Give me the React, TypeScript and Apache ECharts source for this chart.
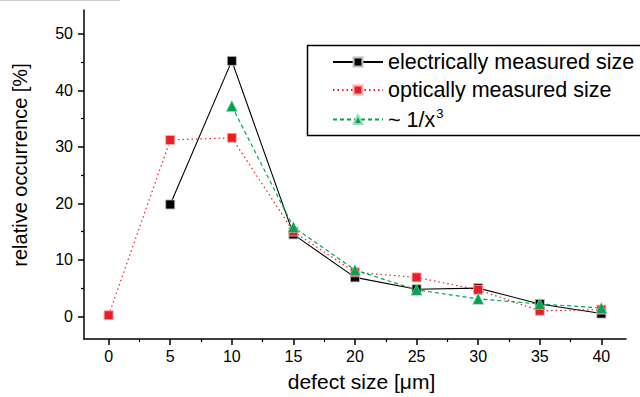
import React, { useEffect, useRef } from "react";
import * as echarts from "echarts";

const sizes = [0, 5, 10, 15, 20, 25, 30, 35, 40];
const electrical = [null, 19.8, 45.2, 14.5, 6.9, 4.8, 5.0, 2.2, 0.5];
const optical = [0.2, 31.2, 31.6, 15.0, 7.8, 6.9, 4.7, 1.0, 1.2];
const cubic = [null, null, 37.2, 15.8, 8.2, 4.7, 3.1, 2.2, 1.5];

const xMajor = [0, 5, 10, 15, 20, 25, 30, 35, 40];
const xMinor = [2.5, 7.5, 12.5, 17.5, 22.5, 27.5, 32.5, 37.5];
const yMajor = [0, 10, 20, 30, 40, 50];
const yMinor = [5, 15, 25, 35, 45];

const names = ["electrically measured size", "optically measured size", "~ 1/x3"];

const FONT = "Liberation Sans, Arial, sans-serif";

function pairs(vals: (number | null)[]) {
  return sizes.map((x, i) => [x, vals[i]]).filter((p) => p[1] !== null);
}

export default function App() {
  const ref = useRef<HTMLDivElement>(null);
  useEffect(() => {
    if (!ref.current) return;
    const chart = echarts.init(ref.current, undefined, { renderer: "svg" });
    const axisLine = { show: true, onZero: false, lineStyle: { color: "#000", width: 1.5 } };
    const xBase = {
      type: "value" as const,
      min: -2,
      max: 42,
      splitLine: { show: false },
    };
    const yBase = {
      type: "value" as const,
      min: -4,
      max: 54.2,
      splitLine: { show: false },
    };
    chart.setOption({
      animation: false,
      backgroundColor: "#fff",
      grid: { left: 84, right: 14, top: 10, bottom: 58, containLabel: false, outerBoundsMode: "none" },
      xAxis: [
        {
          ...xBase,
          axisLine,
          axisTick: { show: true, customValues: xMajor, length: 6, inside: false, lineStyle: { color: "#000", width: 1.5 } },
          axisLabel: { show: true, customValues: xMajor, margin: 9, fontSize: 16, color: "#000", fontFamily: FONT },
          name: "defect size [μm]",
          nameLocation: "middle",
          nameGap: 32,
          nameTextStyle: { fontSize: 21, color: "#000", fontFamily: FONT, padding: [0, 0, 0, 13] },
        },
        {
          ...xBase,
          position: "bottom",
          axisLine: { show: false, onZero: false },
          axisTick: { show: true, customValues: xMinor, length: 3, lineStyle: { color: "#000", width: 1.2 } },
          axisLabel: { show: false },
        },
      ],
      yAxis: [
        {
          ...yBase,
          axisLine,
          axisTick: { show: true, customValues: yMajor, length: 6, lineStyle: { color: "#000", width: 1.5 } },
          axisLabel: { show: true, customValues: yMajor, margin: 11, fontSize: 16, color: "#000", fontFamily: FONT },
          name: "relative occurrence [%]",
          nameLocation: "middle",
          nameGap: 54,
          nameTextStyle: { fontSize: 20, color: "#000", fontFamily: FONT, padding: [0, 0, 0, 19] },
        },
        {
          ...yBase,
          position: "left",
          axisLine: { show: false, onZero: false },
          axisTick: { show: true, customValues: yMinor, length: 3, lineStyle: { color: "#000", width: 1.2 } },
          axisLabel: { show: false },
        },
      ],
      legend: {
        orient: "vertical",
        left: 332,
        top: 51,
        padding: 0,
        itemWidth: 50,
        itemHeight: 11,
        itemGap: 6,
        formatter: (n: string) => (n === names[2] ? "~ 1/x{sup|3}" : n),
        textStyle: {
          fontSize: 21.5,
          lineHeight: 22,
          color: "#000",
          fontFamily: FONT,
          rich: {
            sup: { fontSize: 13, lineHeight: 22, padding: [0, 0, 12, 1], color: "#000", fontFamily: FONT },
          },
        },
        data: names,
      },
      graphic: [
        {
          type: "rect",
          left: 305,
          top: 43,
          shape: { x: 0, y: 0, width: 345, height: 90 },
          style: { fill: "none", stroke: "#000", lineWidth: 1.5 },
          silent: true,
        },
        {
          type: "line",
          shape: { x1: 0, y1: 0.5, x2: 120, y2: 0.5 },
          style: { stroke: "#cfcfcf", lineWidth: 1 },
          silent: true,
        },
      ],
      series: [
        {
          name: names[0],
          type: "line",
          data: pairs(electrical),
          symbol: "rect",
          symbolSize: 9,
          lineStyle: { color: "#000", width: 1.1, type: "solid" },
          itemStyle: { color: "#000", borderColor: "#bbb", borderWidth: 0.8 },
        },
        {
          name: names[1],
          type: "line",
          data: pairs(optical),
          symbol: "rect",
          symbolSize: 9,
          lineStyle: { color: "#ee1c25", width: 1.2, type: [1.5, 3] },
          itemStyle: { color: "#ee1c25", borderColor: "#f8b0b0", borderWidth: 0.8 },
        },
        {
          name: names[2],
          type: "line",
          data: pairs(cubic),
          symbol: "triangle",
          symbolSize: 11,
          lineStyle: { color: "#00a651", width: 1.2, type: [4, 3] },
          itemStyle: { color: "#00a651", borderColor: "#9fd9b5", borderWidth: 0.6 },
        },
      ],
    });
    return () => chart.dispose();
  }, []);
  return <div ref={ref} style={{ position: "fixed", left: 0, top: 0, width: 640, height: 397 }} />;
}
